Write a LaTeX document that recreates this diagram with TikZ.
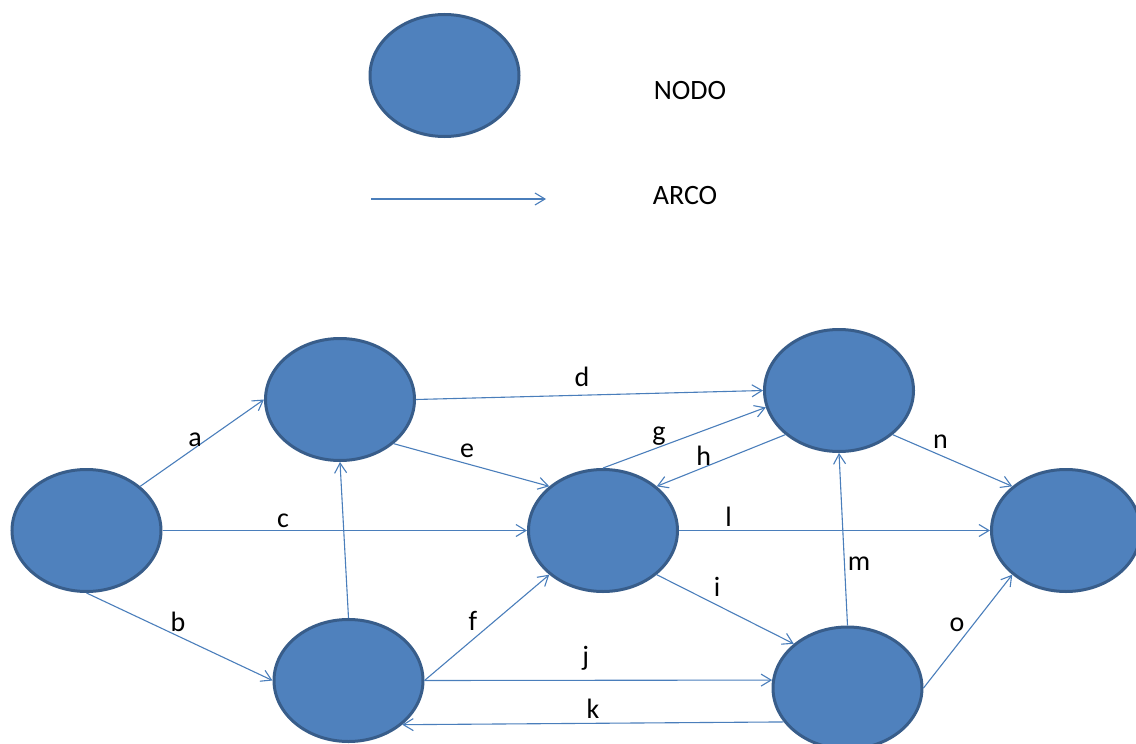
\documentclass[tikz,border=0pt]{standalone}
\usepackage{fontspec}
\setmainfont{Carlito}
\usetikzlibrary{shapes.geometric,arrows.meta}
\definecolor{nodefill}{HTML}{4F81BD}
\definecolor{nodeline}{HTML}{385D8A}
\definecolor{arcline}{HTML}{4A7EBB}
\begin{document}
\begin{tikzpicture}[x=1pt,y=-1pt,
  nodo/.style={ellipse, draw=nodeline, fill=nodefill, line width=3pt,
    minimum width=149pt, minimum height=122pt, inner sep=0pt},
  arco/.style={draw=arcline, line width=1.1pt,
    -{Straight Barb[length=10pt,width=12pt,line width=1.1pt]}},
  lbl/.style={font=\fontsize{28}{30}\selectfont, anchor=base, inner sep=0pt}]
\useasboundingbox (0,0) rectangle (1136,744);

% legend
\node[nodo] (legnodo) at (444.5,75.5) {};
\node[lbl] (tnodo) at (690,99) {NODO};
\coordinate (arcoA) at (371,199);
\coordinate (arcoB) at (546,199);
\draw[arco] (arcoA) -- (arcoB);
\node[lbl] (tarco) at (685,204) {ARCO};

% network nodes
\node[nodo] (n1) at (86.5,530.5) {};
\node[nodo] (n2) at (340,399.5) {};
\node[nodo] (n3) at (348.5,680.5) {};
\node[nodo] (n4) at (603,530.5) {};
\node[nodo] (n5) at (839,390.5) {};
\node[nodo] (n6) at (847.5,688) {};
\node[nodo] (n7) at (1066,530.5) {};

% arcs
\draw[arco] (n1.north east) -- (n2.west);
\draw[arco] (n1.south) -- (n3.west);
\draw[arco] (n1.east) -- (n4.west);
\draw[arco] (n2.east) -- (n5.west);
\draw[arco] (n2.south east) -- (n4.north west);
\draw[arco] (n3.north) -- (n2.south);
\draw[arco] (n3.east) -- (n4.south west);
\draw[arco] (n3.east) -- (n6.174);
\draw[arco] (n6.208) -- (n3.south east);
\draw[arco] (n4.north) -- (n5.193);
\draw[arco] (n5.south west) -- (n4.north east);
\draw[arco] (n4.east) -- (n7.west);
\draw[arco] (n4.south east) -- (n6.north west);
\draw[arco] (n6.north) -- (n5.south);
\draw[arco] (n5.south east) -- (n7.north west);
\draw[arco] (n6.east) -- (n7.south west);

% arc labels
\node[lbl] (la) at (195,446.7) {a};
\node[lbl] (lb) at (178,631.7) {b};
\node[lbl] (lc) at (283,527.3) {c};
\node[lbl] (ld) at (582,386) {d};
\node[lbl] (le) at (467,457) {e};
\node[lbl] (lf) at (473,630) {f};
\node[lbl] (lg) at (659,440) {g};
\node[lbl] (lh) at (703.6,465) {h};
\node[lbl] (li) at (717,596) {i};
\node[lbl] (lj) at (585.7,665.7) {j};
\node[lbl] (lk) at (593,718.3) {k};
\node[lbl] (ll) at (728.6,526.7) {l};
\node[lbl] (lm) at (859,570.7) {m};
\node[lbl] (ln) at (940.5,448.3) {n};
\node[lbl] (lo) at (957,631.7) {o};
\end{tikzpicture}
\end{document}
